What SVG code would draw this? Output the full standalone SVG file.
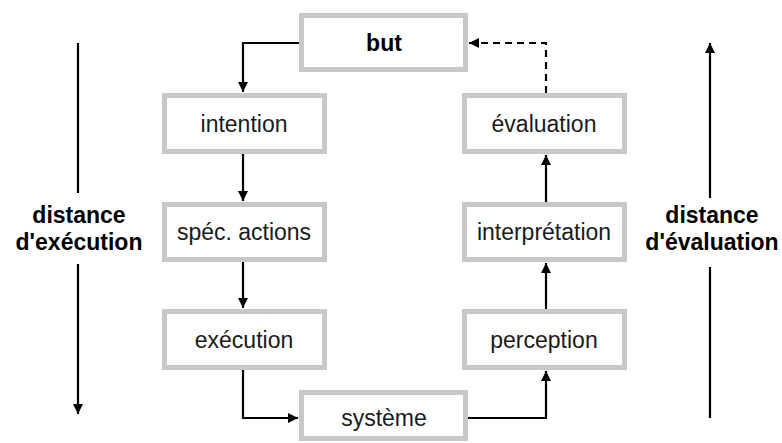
<svg xmlns="http://www.w3.org/2000/svg" width="782" height="443" viewBox="0 0 782 443">
<style>
  .box { fill: #ffffff; stroke: #c8c8c8; stroke-width: 5; }
  .lbl { font-family: "Liberation Sans", Arial, sans-serif; font-size: 23px; fill: #1a1a1a; text-anchor: middle; }
  .bold { font-weight: bold; fill: #000000; }
  .side { font-family: "Liberation Sans", Arial, sans-serif; font-size: 23px; font-weight: bold; fill: #000000; text-anchor: middle; }
  .conn { fill: none; stroke: #000000; stroke-width: 2.2; }
  .dash { stroke-dasharray: 7 5; }
</style>
<defs>
  <marker id="arrow" viewBox="0 0 10 10" refX="10" refY="5" markerWidth="11" markerHeight="10" markerUnits="userSpaceOnUse" orient="auto">
    <path d="M0,0 L10,5 L0,10 Z" fill="#000000"/>
  </marker>
</defs>
<rect width="782" height="443" fill="#ffffff"/>

<g id="connectors">
  <path class="conn" d="M299,43 H243 V92" marker-end="url(#arrow)"/>
  <path class="conn" d="M243,154 V201" marker-end="url(#arrow)"/>
  <path class="conn" d="M243,262 V308" marker-end="url(#arrow)"/>
  <path class="conn" d="M243,370 V418 H298" marker-end="url(#arrow)"/>
  <path class="conn" d="M468,418 H546 V371" marker-end="url(#arrow)"/>
  <path class="conn" d="M546,309 V263" marker-end="url(#arrow)"/>
  <path class="conn" d="M546,202 V155" marker-end="url(#arrow)"/>
  <path class="conn dash" d="M546,93 V43 H469" marker-end="url(#arrow)"/>
  <path class="conn" d="M78,43 V193"/>
  <path class="conn" d="M78,264 V414" marker-end="url(#arrow)"/>
  <path class="conn" d="M710,418 V267"/>
  <path class="conn" d="M710,198 V43" marker-end="url(#arrow)"/>
</g>

<g id="node-but">
  <rect class="box" x="301.5" y="15.5" width="164" height="54"/>
  <text class="lbl bold" x="384" y="51">but</text>
</g>
<g id="node-intention">
  <rect class="box" x="164.5" y="95.5" width="160" height="56"/>
  <text class="lbl" x="244" y="132">intention</text>
</g>
<g id="node-spec">
  <rect class="box" x="164.5" y="204.5" width="160" height="55"/>
  <text class="lbl" x="244" y="240">spéc. actions</text>
</g>
<g id="node-execution">
  <rect class="box" x="164.5" y="311.5" width="160" height="56"/>
  <text class="lbl" x="244" y="348">exécution</text>
</g>
<g id="node-systeme">
  <rect class="box" x="301.5" y="392.5" width="164" height="46"/>
  <text class="lbl" x="384" y="426">système</text>
</g>
<g id="node-perception">
  <rect class="box" x="464.5" y="311.5" width="160" height="56"/>
  <text class="lbl" x="544" y="348">perception</text>
</g>
<g id="node-interpretation">
  <rect class="box" x="464.5" y="204.5" width="160" height="55"/>
  <text class="lbl" x="544" y="240">interprétation</text>
</g>
<g id="node-evaluation">
  <rect class="box" x="464.5" y="95.5" width="160" height="56"/>
  <text class="lbl" x="544" y="132">évaluation</text>
</g>

<g id="label-execution">
  <text class="side" x="79" y="223">distance</text>
  <text class="side" x="79" y="250">d'exécution</text>
</g>
<g id="label-evaluation">
  <text class="side" x="712" y="223">distance</text>
  <text class="side" x="712" y="250">d'évaluation</text>
</g>
</svg>
